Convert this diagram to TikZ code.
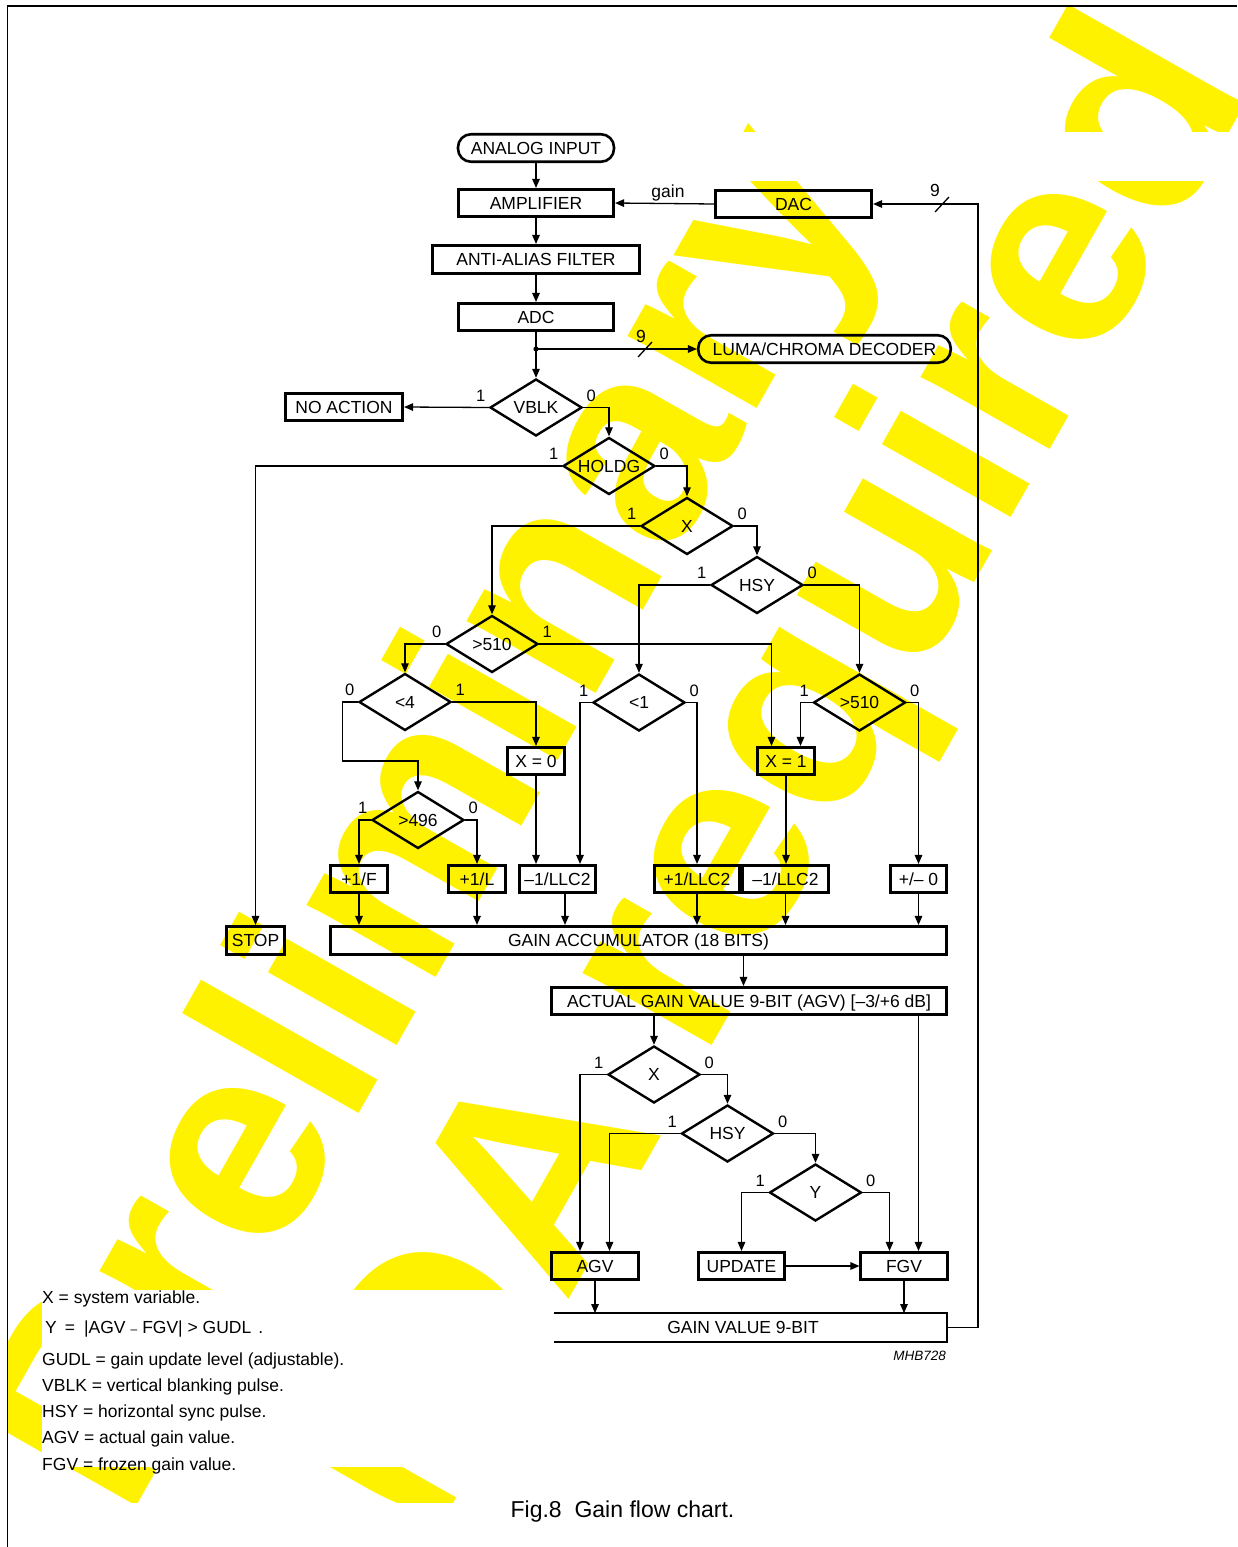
\documentclass[tikz,border=0pt]{standalone}
\usepackage{fontspec}
\setmainfont{Liberation Sans}
\usetikzlibrary{shapes.geometric,arrows.meta,calc}
\newcommand{\DiaFont}{\fontsize{17.5}{20}\selectfont}
\newcommand{\LblFont}{\fontsize{16.5}{19}\selectfont}
\newcommand{\CapFont}{\fontsize{23}{27}\selectfont}
\newcommand{\TagFont}{\fontsize{13.5}{16}\selectfont\itshape}
\newcommand{\WmFont}{\fontsize{280}{280}\selectfont\bfseries}
\begin{document}
\begin{tikzpicture}[x=1pt,y=-1pt,
  conn/.style={line width=1.3pt},
  arr/.style={conn,-{Triangle[length=9pt,width=7.5pt]}},
  box/.style={draw,rectangle,line width=2.6pt,inner sep=0pt,text height=12.6pt,text depth=0pt,font=\DiaFont,minimum height=27.5pt},
  stad/.style={box,rounded corners=13pt},
  dia/.style={draw,diamond,aspect=1.6,line width=2.4pt,inner sep=0pt,minimum width=92pt,minimum height=57pt,text height=12.6pt,text depth=0pt,font=\DiaFont},
  lbl/.style={inner sep=0pt,font=\LblFont,text height=11.8pt,text depth=0pt},
  leg/.style={inner sep=0pt,anchor=base west,font=\DiaFont},
  wm/.style={inner sep=0pt,anchor=base west,rotate=60.5,text=yellow,font=\WmFont}
]
\useasboundingbox (0,0) rectangle (1237,1547);
% watermark
\begin{scope}
\clip (8.5,7) rectangle (1237,1547);
\node[wm] (wm1) at (127,1523) {Preliminary};
\node[wm] (wm2) at (366,1658) {NDA required};
\end{scope}
\fill[white] (8.5,132) rectangle (1237,181);
\fill[white] (42,1290) rectangle (553,1467);
\fill[white] (8.5,1503) rectangle (1237,1547);
% frame
\draw[line width=1.6pt] (7.5,1547) -- (7.5,6) -- (1237,6);

% nodes
\node[stad,minimum width=156pt] (ain) at (536,148) {ANALOG INPUT};
\node[box,minimum width=155.5pt] (amp) at (536,203) {AMPLIFIER};
\node[box,minimum width=206.5pt,minimum height=28.5pt] (aaf) at (536,259.5) {ANTI-ALIAS FILTER};
\node[box,minimum width=155.5pt] (adc) at (536,317) {ADC};
\node[stad,minimum width=252.5pt] (luma) at (824.5,349) {LUMA/CHROMA DECODER};
\node[box,minimum width=156.5pt] (dac) at (793.5,204) {DAC};
\node[box,minimum width=117.5pt] (noact) at (344,407) {NO ACTION};
\node[dia] (vblk) at (536,407.5) {VBLK};
\node[dia] (holdg) at (609,466) {HOLDG};
\node[dia] (xa) at (687,526) {X};
\node[dia] (hsya) at (757,585) {HSY};
\node[dia] (gta) at (492,644) {>510};
\node[dia] (lt4) at (405,702) {<4};
\node[dia] (lt1) at (639,702.5) {<1};
\node[dia] (gtb) at (859.5,702.5) {>510};
\node[box,minimum width=56.5pt] (x0) at (536,761) {X = 0};
\node[box,minimum width=56.5pt] (x1) at (786,761) {X = 1};
\node[dia] (gt496) at (418,820) {>496};
\node[box,minimum width=57.5pt] (pf) at (359,879) {+1/F};
\node[box,minimum width=57.5pt] (pl) at (477,879) {+1/L};
\node[box,minimum width=75.5pt] (m1) at (557.5,879) {–1/LLC2};
\node[box,minimum width=85.5pt] (p2) at (697,879) {+1/LLC2};
\node[box,minimum width=86.5pt] (m2) at (785.5,879) {–1/LLC2};
\node[box,minimum width=56.5pt] (pm0) at (918.5,879) {+/– 0};
\node[box,minimum width=58.5pt,minimum height=28.5pt] (stop) at (255.5,940.5) {STOP};
\node[box,minimum width=616.5pt,minimum height=28.5pt] (acc) at (638.5,940.5) {GAIN ACCUMULATOR (18 BITS)};
\node[box,minimum width=395.5pt] (agv9) at (749,1001) {ACTUAL GAIN VALUE 9-BIT (AGV) [–3/+6 dB]};
\node[dia] (xb) at (654,1074.5) {X};
\node[dia] (hsyb) at (727.5,1133.5) {HSY};
\node[dia] (yd) at (815.5,1192.5) {Y};
\node[box,minimum width=86.5pt] (agv) at (595,1266) {AGV};
\node[box,minimum width=86.5pt] (upd) at (741.5,1266) {UPDATE};
\node[box,minimum width=86.5pt] (fgv) at (904,1266) {FGV};
\node[inner sep=0pt,minimum width=407.4pt,minimum height=28.5pt,text height=12.6pt,text depth=0pt,font=\DiaFont] (gv) at (743,1327.5) {GAIN VALUE 9-BIT};
\draw[line width=2.6pt] ([xshift=14.7pt]gv.north west) -- (gv.north east) -- (gv.south east) -- ([xshift=14.7pt]gv.south west);

% top chain
\draw[arr] (ain.south) -- (amp.north);
\draw[arr] (amp.south) -- (aaf.north);
\draw[arr] (aaf.south) -- (adc.north);
\coordinate (j) at (adc.south |- luma.west);
\draw[arr] (adc.south) -- (vblk.north);
\draw[arr] (j) -- (luma.west);
\fill (j) circle[radius=2.6pt];
\coordinate (s1) at (645,349);
\draw[conn] ([shift={(-7,8)}]s1) -- ([shift={(7,-7)}]s1);
\node[inner sep=0pt,anchor=base,font=\DiaFont] (n9a) at (641,342.5) {9};
\draw[arr] (dac.west) -- (amp.east);
\node[inner sep=0pt,anchor=base,font=\DiaFont] (gainlbl) at (668,197) {gain};
\coordinate (fb) at (978,204);
\draw[arr] (gv.east) -| (fb) -- (dac.east);
\coordinate (s2) at (942,204);
\draw[conn] ([shift={(-7,8)}]s2) -- ([shift={(7,-7)}]s2);
\node[inner sep=0pt,anchor=base,font=\DiaFont] (n9b) at (935,196.7) {9};

% decision tree
\draw[arr] (vblk.west) -- (noact.east);
\draw[arr] (vblk.east) -| (holdg.north);
\draw[arr] (holdg.west) -| (stop.north);
\draw[arr] (holdg.east) -| (xa.north);
\draw[arr] (xa.west) -| (gta.north);
\draw[arr] (xa.east) -| (hsya.north);
\draw[arr] (hsya.west) -| (lt1.north);
\draw[arr] (hsya.east) -| (gtb.north);
\draw[arr] (gta.west) -| (lt4.north);
\coordinate (x1l) at ([xshift=-14.5pt]x1.north);
\coordinate (x1r) at ([xshift=14.5pt]x1.north);
\draw[arr] (gta.east) -| (x1l);
\draw[arr] (gtb.west) -| (x1r);
\draw[arr] (gtb.east) -| (pm0.north);
\draw[arr] (lt4.east) -| (x0.north);
\coordinate (lt4a) at ([xshift=-15pt]lt4.west);
\coordinate (lt4b) at (gt496.north |- x0);
\draw[arr] (lt4.west) -- (lt4a) |- (lt4b) -- (gt496.north);
\draw[arr] (gt496.west) -| (pf.north);
\draw[arr] (gt496.east) -| (pl.north);
\draw[arr] (x0.south) -- (x0.south |- m1.north);
\coordinate (m1in) at ([xshift=22.5pt]m1.north);
\draw[arr] (lt1.west) -| (m1in);
\draw[arr] (lt1.east) -| (p2.north);
\draw[arr] (x1.south) -- (x1.south |- m2.north);

% into accumulator
\draw[arr] (pf.south) -- (pf.south |- acc.north);
\draw[arr] (pl.south) -- (pl.south |- acc.north);
\coordinate (m1out) at ([xshift=7.5pt]m1.south);
\draw[arr] (m1out) -- (m1out |- acc.north);
\draw[arr] (p2.south) -- (p2.south |- acc.north);
\draw[arr] (m2.south) -- (m2.south |- acc.north);
\draw[arr] (pm0.south) -- (pm0.south |- acc.north);
\coordinate (accout) at ([xshift=105pt]acc.south);
\draw[arr] (accout) -- (accout |- agv9.north);

% lower part
\draw[arr] (xb.north |- agv9.south) -- (xb.north);
\coordinate (fgvr) at ([xshift=14.5pt]fgv.north);
\coordinate (fgvl) at ([xshift=-14.5pt]fgv.north);
\draw[arr] (fgvr |- agv9.south) -- (fgvr);
\coordinate (agvl) at ([xshift=-15pt]agv.north);
\coordinate (agvr) at ([xshift=14.5pt]agv.north);
\draw[arr] (xb.west) -| (agvl);
\draw[arr] (xb.east) -| (hsyb.north);
\draw[arr] (hsyb.west) -| (agvr);
\draw[arr] (hsyb.east) -| (yd.north);
\draw[arr] (yd.west) -| (upd.north);
\draw[arr] (yd.east) -| (fgvl);
\draw[arr] (upd.east) -- (fgv.west);
\draw[arr] (agv.south) -- (agv.south |- gv.north);
\draw[arr] (fgv.south) -- (fgv.south |- gv.north);

% branch labels
\foreach \d/\l/\r in {vblk/1/0,holdg/1/0,xa/1/0,hsya/1/0,gta/0/1,lt4/0/1,lt1/1/0,gtb/1/0,gt496/1/0,xb/1/0,hsyb/1/0,yd/1/0}{
  \node[lbl] (\d-l) at ([shift={(-8,-12)}]\d.west) {\l};
  \node[lbl] (\d-r) at ([shift={(8,-12)}]\d.east) {\r};
}

% legend
\node[leg] (lg1) at (42,1303.3) {X = system variable.};
\node[leg] (lg2) at (45,1333.3) {Y\hspace{8pt}=\hspace{9pt}|AGV\hspace{5pt}{\fontsize{12}{12}\selectfont –}\hspace{5pt}FGV| > GUDL\hspace{7pt}.};
\node[leg] (lg3) at (42,1365) {GUDL = gain update level (adjustable).};
\node[leg] (lg4) at (42,1391.7) {VBLK = vertical blanking pulse.};
\node[leg] (lg5) at (42,1417.7) {HSY = horizontal sync pulse.};
\node[leg] (lg6) at (42,1443.3) {AGV = actual gain value.};
\node[leg] (lg7) at (42,1470) {FGV = frozen gain value.};

\node[anchor=base east,inner sep=0pt,font=\TagFont] (tag) at (946,1360) {MHB728};
\node[anchor=base,inner sep=0pt,font=\CapFont] (cap) at (622.5,1517) {Fig.8~~Gain flow chart.};
\end{tikzpicture}
\end{document}
